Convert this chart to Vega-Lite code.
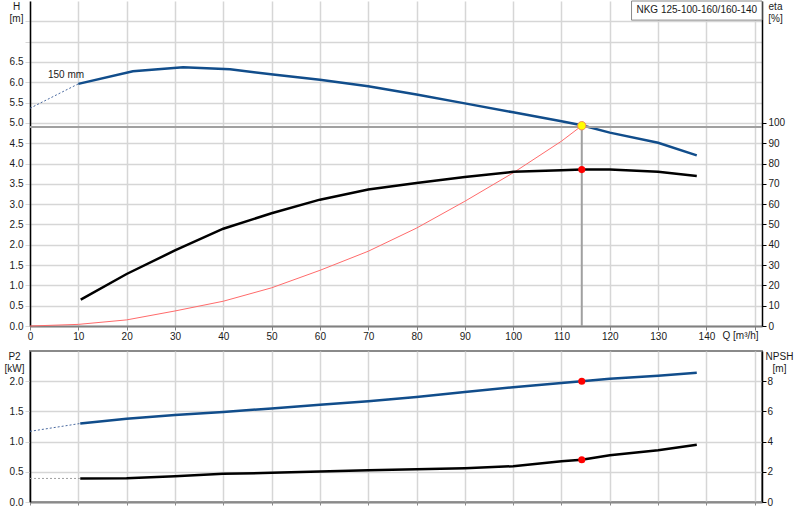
{
  "$schema": "https://vega.github.io/schema/vega-lite/v6.json",
  "padding": {"left": 3, "top": 0, "right": 0, "bottom": 0},
  "background": "white",
  "spacing": 9,
  "config": {
    "font": "Liberation Sans",
    "view": {"stroke": null},
    "axis": {
      "labelFont": "Liberation Sans", "labelFontSize": 10, "labelColor": "#1a1a1a",
      "titleFont": "Liberation Sans", "titleFontSize": 10, "titleFontWeight": "normal", "titleColor": "#1a1a1a",
      "gridColor": "#d6d6d6", "gridWidth": 1.5, "labelFlush": false, "labelOverlap": false
    }
  },
  "datasets": {
    "headExt": [{"Q": 0, "H": 5.36}, {"Q": 10.0, "H": 5.96}],
    "head": [
      {"Q": 10.0, "H": 5.96}, {"Q": 21.3, "H": 6.27}, {"Q": 31.7, "H": 6.37}, {"Q": 41.4, "H": 6.32},
      {"Q": 50.3, "H": 6.19}, {"Q": 60, "H": 6.06}, {"Q": 70, "H": 5.90}, {"Q": 80, "H": 5.70},
      {"Q": 90, "H": 5.48}, {"Q": 100, "H": 5.26}, {"Q": 110, "H": 5.04}, {"Q": 114.2, "H": 4.94},
      {"Q": 120, "H": 4.76}, {"Q": 130, "H": 4.51}, {"Q": 138, "H": 4.20}
    ],
    "system": [
      {"Q": 0, "H": 0}, {"Q": 10, "H": 0.04}, {"Q": 20, "H": 0.15}, {"Q": 30, "H": 0.37},
      {"Q": 40, "H": 0.61}, {"Q": 50, "H": 0.94}, {"Q": 60, "H": 1.37}, {"Q": 70, "H": 1.84},
      {"Q": 80, "H": 2.41}, {"Q": 90, "H": 3.07}, {"Q": 100, "H": 3.77}, {"Q": 110, "H": 4.55},
      {"Q": 114.2, "H": 4.93}
    ],
    "eta": [
      {"Q": 10.5, "eta": 13.0}, {"Q": 20, "eta": 25.6}, {"Q": 30, "eta": 37.2}, {"Q": 40, "eta": 47.9},
      {"Q": 50, "eta": 55.5}, {"Q": 60, "eta": 62.2}, {"Q": 70, "eta": 67.2}, {"Q": 80, "eta": 70.4},
      {"Q": 90, "eta": 73.3}, {"Q": 100, "eta": 75.9}, {"Q": 110, "eta": 76.7}, {"Q": 114.2, "eta": 77.0},
      {"Q": 120, "eta": 77.0}, {"Q": 130, "eta": 75.9}, {"Q": 138, "eta": 73.9}
    ],
    "p2Ext": [{"Q": 0, "P2": 1.17}, {"Q": 10.4, "P2": 1.30}],
    "p2": [
      {"Q": 10.4, "P2": 1.30}, {"Q": 20, "P2": 1.38}, {"Q": 30, "P2": 1.44}, {"Q": 40, "P2": 1.49},
      {"Q": 50, "P2": 1.55}, {"Q": 60, "P2": 1.61}, {"Q": 70, "P2": 1.67}, {"Q": 80, "P2": 1.74},
      {"Q": 90, "P2": 1.82}, {"Q": 100, "P2": 1.90}, {"Q": 110, "P2": 1.97}, {"Q": 114.2, "P2": 2.00},
      {"Q": 120, "P2": 2.04}, {"Q": 130, "P2": 2.09}, {"Q": 138, "P2": 2.14}
    ],
    "npshExt": [{"Q": 0, "NPSH": 1.56}, {"Q": 10.4, "NPSH": 1.56}],
    "npsh": [
      {"Q": 10.4, "NPSH": 1.56}, {"Q": 20, "NPSH": 1.58}, {"Q": 30, "NPSH": 1.71}, {"Q": 40, "NPSH": 1.87},
      {"Q": 50, "NPSH": 1.93}, {"Q": 60, "NPSH": 2.02}, {"Q": 70, "NPSH": 2.10}, {"Q": 80, "NPSH": 2.17},
      {"Q": 90, "NPSH": 2.24}, {"Q": 100, "NPSH": 2.37}, {"Q": 110, "NPSH": 2.70}, {"Q": 114.2, "NPSH": 2.80},
      {"Q": 120, "NPSH": 3.10}, {"Q": 130, "NPSH": 3.43}, {"Q": 138, "NPSH": 3.79}
    ],
    "duty": [{"Q": 114.2, "H": 4.93, "eta": 77.0, "P2": 2.0, "NPSH": 2.8}],
    "dutyLineH": [{"Q": 0, "Q2": 151.5, "H": 4.9}],
    "dutyLineV": [{"Q": 114.2, "H": 4.9, "H2": 0}],
    "labels": [{"Q": 7.45, "H": 6.17, "text": "150 mm"}, {"Q": 138.0, "H": 7.79, "text": "NKG 125-100-160/160-140"}],
    "box": [{"Q": 124.5, "Q2": 151.5, "H": 7.53, "H2": 8.0}]
  },
  "vconcat": [
    {
      "width": 732,
      "height": 325,
      "layer": [
        {
          "encoding": {
            "x": {
              "field": "Q", "type": "quantitative",
              "scale": {"domain": [0, 151.5], "nice": false, "zero": false},
              "axis": {
                "values": [0, 10, 20, 30, 40, 50, 60, 70, 80, 90, 100, 110, 120, 130, 140, 150],
                "labelExpr": "datum.value > 145 ? '' : format(datum.value, 'd')",
                "title": "Q [m³/h]", "titleX": 692, "titleY": 9, "titleAlign": "left", "titleBaseline": "middle",
                "grid": true, "domainColor": "#808080", "domainWidth": 2,
                "tickColor": "#808080", "tickSize": 4, "labelPadding": 1
              }
            },
            "y": {
              "field": "H", "type": "quantitative",
              "scale": {"domain": [0, 8], "nice": false, "zero": false},
              "axis": {
                "values": [0, 0.5, 1, 1.5, 2, 2.5, 3, 3.5, 4, 4.5, 5, 5.5, 6, 6.5, 7, 7.5],
                "labelExpr": "datum.value > 6.6 ? '' : format(datum.value, '.1f')",
                "title": ["H", "[m]"], "titleAngle": 0, "titleAlign": "center", "titleBaseline": "top",
                "titleX": -14, "titleY": 0, "titleLineHeight": 12,
                "grid": true, "domainColor": "#000000", "domainWidth": 1.5,
                "tickColor": "#d6d6d6", "tickSize": 5, "labelPadding": 2
              }
            }
          },
          "layer": [
            {
              "data": {"name": "headExt"},
              "mark": {"type": "line", "color": "#4a6aa0", "strokeWidth": 1, "strokeDash": [2, 2]}
            },
            {
              "data": {"name": "head"},
              "mark": {"type": "line", "color": "#114d8b", "strokeWidth": 2.5}
            },
            {
              "data": {"name": "dutyLineH"},
              "mark": {"type": "rule", "color": "#a0a0a0", "strokeWidth": 2},
              "encoding": {"x2": {"field": "Q2"}}
            },
            {
              "data": {"name": "dutyLineV"},
              "mark": {"type": "rule", "color": "#a0a0a0", "strokeWidth": 2},
              "encoding": {"y2": {"field": "H2"}}
            },
            {
              "data": {"name": "system"},
              "mark": {"type": "line", "color": "#ff6b6b", "strokeWidth": 1}
            },
            {
              "data": {"name": "duty"},
              "mark": {"type": "point", "filled": true, "fill": "#ffff00", "stroke": "#f08a5a", "strokeWidth": 1, "size": 70, "opacity": 1}
            },
            {
              "data": {"name": "box"},
              "mark": {"type": "rect", "fill": "white", "stroke": "#8a8a8a", "strokeWidth": 1},
              "encoding": {"x2": {"field": "Q2"}, "y2": {"field": "H2"}}
            },
            {
              "data": {"name": "labels"},
              "mark": {"type": "text", "fontSize": 10, "color": "#1a1a1a", "align": "center", "baseline": "middle"},
              "encoding": {"text": {"field": "text"}}
            }
          ]
        },
        {
          "encoding": {
            "x": {
              "field": "Q", "type": "quantitative",
              "scale": {"domain": [0, 151.5], "nice": false, "zero": false},
              "axis": {
                "values": [0, 10, 20, 30, 40, 50, 60, 70, 80, 90, 100, 110, 120, 130, 140, 150],
                "labelExpr": "datum.value > 145 ? '' : format(datum.value, 'd')",
                "title": "Q [m³/h]", "titleX": 692, "titleY": 9, "titleAlign": "left", "titleBaseline": "middle",
                "grid": true, "domainColor": "#808080", "domainWidth": 2,
                "tickColor": "#808080", "tickSize": 4, "labelPadding": 1
              }
            },
            "y": {
              "field": "eta", "type": "quantitative",
              "scale": {"domain": [0, 160], "nice": false, "zero": false},
              "axis": {
                "orient": "right",
                "values": [0, 10, 20, 30, 40, 50, 60, 70, 80, 90, 100],
                "format": "d",
                "title": ["eta", "[%]"], "titleAngle": 0, "titleAlign": "center", "titleBaseline": "top",
                "titleX": 13, "titleY": 0, "titleLineHeight": 12,
                "grid": false, "domainColor": "#000000", "domainWidth": 1.5,
                "tickColor": "#000000", "tickSize": 4, "labelPadding": 2
              }
            }
          },
          "layer": [
            {
              "data": {"name": "eta"},
              "mark": {"type": "line", "color": "#000000", "strokeWidth": 2.5}
            },
            {
              "data": {"name": "duty"},
              "mark": {"type": "point", "filled": true, "color": "#ff0000", "size": 50, "opacity": 1}
            }
          ]
        }
      ],
      "resolve": {"scale": {"y": "independent"}}
    },
    {
      "width": 732,
      "height": 151,
      "view": {"stroke": "#8a8a8a", "strokeWidth": 2},
      "layer": [
        {
          "encoding": {
            "x": {
              "field": "Q", "type": "quantitative",
              "scale": {"domain": [0, 151.5], "nice": false, "zero": false},
              "axis": {
                "values": [0, 10, 20, 30, 40, 50, 60, 70, 80, 90, 100, 110, 120, 130, 140, 150],
                "labels": false, "title": null, "grid": true,
                "domainColor": "#8a8a8a", "domainWidth": 2, "tickColor": "#8a8a8a", "tickSize": 3
              }
            },
            "y": {
              "field": "P2", "type": "quantitative",
              "scale": {"domain": [0, 2.5], "nice": false, "zero": false},
              "axis": {
                "values": [0, 0.5, 1, 1.5, 2],
                "format": ".1f",
                "title": ["P2", "[kW]"], "titleAngle": 0, "titleAlign": "center", "titleBaseline": "top",
                "titleX": -16, "titleY": 0, "titleLineHeight": 12,
                "grid": true, "domainColor": "#000000", "domainWidth": 1.5,
                "tickColor": "#d6d6d6", "tickSize": 5, "labelPadding": 2
              }
            }
          },
          "layer": [
            {
              "data": {"name": "p2Ext"},
              "mark": {"type": "line", "color": "#4a6aa0", "strokeWidth": 1, "strokeDash": [2, 2]}
            },
            {
              "data": {"name": "p2"},
              "mark": {"type": "line", "color": "#114d8b", "strokeWidth": 2.5}
            },
            {
              "data": {"name": "duty"},
              "mark": {"type": "point", "filled": true, "color": "#ff0000", "size": 50, "opacity": 1}
            }
          ]
        },
        {
          "encoding": {
            "x": {
              "field": "Q", "type": "quantitative",
              "scale": {"domain": [0, 151.5], "nice": false, "zero": false},
              "axis": {
                "values": [0, 10, 20, 30, 40, 50, 60, 70, 80, 90, 100, 110, 120, 130, 140, 150],
                "labels": false, "title": null, "grid": true,
                "domainColor": "#8a8a8a", "domainWidth": 2, "tickColor": "#8a8a8a", "tickSize": 3
              }
            },
            "y": {
              "field": "NPSH", "type": "quantitative",
              "scale": {"domain": [0, 10], "nice": false, "zero": false},
              "axis": {
                "orient": "right",
                "values": [0, 2, 4, 6, 8],
                "format": "d",
                "title": ["NPSH", "[m]"], "titleAngle": 0, "titleAlign": "center", "titleBaseline": "top",
                "titleX": 17, "titleY": 0, "titleLineHeight": 12,
                "grid": false, "domainColor": "#000000", "domainWidth": 1.5,
                "tickColor": "#000000", "tickSize": 4, "labelPadding": 1
              }
            }
          },
          "layer": [
            {
              "data": {"name": "npshExt"},
              "mark": {"type": "line", "color": "#a0a0a0", "strokeWidth": 1, "strokeDash": [2, 2]}
            },
            {
              "data": {"name": "npsh"},
              "mark": {"type": "line", "color": "#000000", "strokeWidth": 2.5}
            },
            {
              "data": {"name": "duty"},
              "mark": {"type": "point", "filled": true, "color": "#ff0000", "size": 50, "opacity": 1}
            }
          ]
        }
      ],
      "resolve": {"scale": {"y": "independent"}}
    }
  ]
}
